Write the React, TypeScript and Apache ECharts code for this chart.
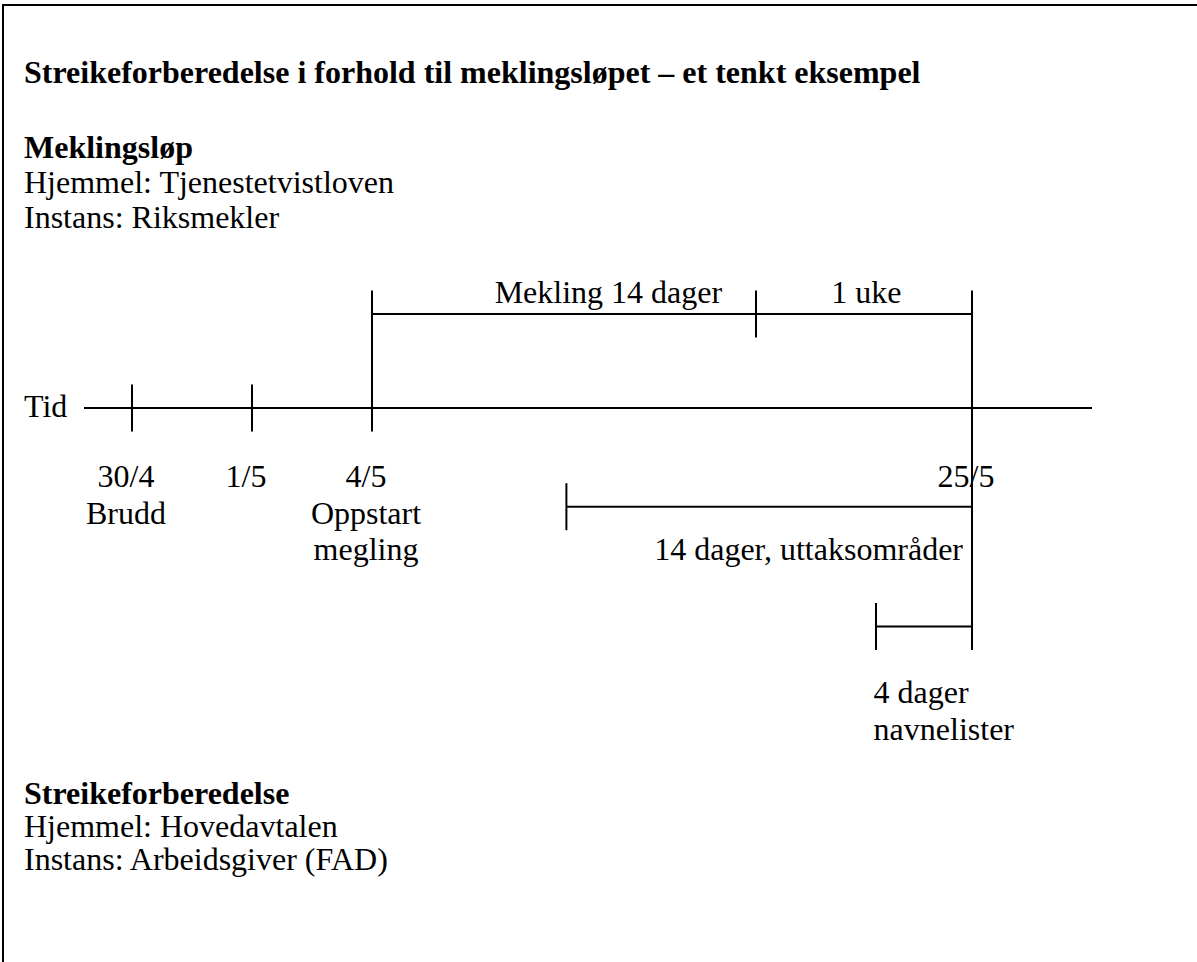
import React, { useEffect, useRef } from "react";
import * as echarts from "echarts";

const FONT = "Liberation Serif";

// Texts
const title = "Streikeforberedelse i forhold til meklingsløpet – et tenkt eksempel";
const topBlock = ["Meklingsløp", "Hjemmel: Tjenestetvistloven", "Instans: Riksmekler"];
const bottomBlock = ["Streikeforberedelse", "Hjemmel: Hovedavtalen", "Instans: Arbeidsgiver (FAD)"];
const axisName = "Tid";

// Schematic timeline (positions are not to scale, as in the original sketch)
const dateLabels = ["30/4", "1/5", "4/5", "25/5"];
const dateNotes = ["Brudd", "", "Oppstart\nmegling", ""];
const datePos = [1, 2, 3, 8];
const timelineRange = [0.6, 9];
const tickHalf = 1;
const dateRow = -3.36;

// Mekling (mediation) bracket above the time line
const meklingStart = 3;
const meklingSplit = 6.2;
const meklingEnd = 8;
const meklingLevel = 4;
const bracketTop = 5;
const splitBottom = 3;
const meklingLabels = ["Mekling 14 dager", "1 uke"];
const meklingLabelPos = [4.97, 7.12];
const meklingLabelRow = 4.47;

// Strike preparation brackets below the time line
const prepLabels = ["14 dager, uttaksområder", "4 dager\nnavnelister"];
const prepStart = [4.62, 7.2];
const prepEnd = [8, 8];
const prepLevel = [-4.2, -9.3];
const prepLabelX = [7.925, 7.18];
const prepLabelRow = [-6.47, -12.55];
const prepLabelAlign = ["right", "left"];

const BASE_TO_MID = 10.8; // alphabetic baseline -> central for 32px serif

export default function App() {
  const ref = useRef<HTMLDivElement>(null);
  useEffect(() => {
    if (!ref.current) return;
    const chart = echarts.init(ref.current, null, { renderer: "svg" });

    const segs: number[][] = [];
    segs.push([timelineRange[0], 0, timelineRange[1], 0]);
    datePos.forEach((p) => segs.push([p, tickHalf, p, -tickHalf]));
    segs.push([meklingStart, bracketTop, meklingStart, 0]);
    segs.push([meklingStart, meklingLevel, meklingEnd, meklingLevel]);
    segs.push([meklingSplit, bracketTop, meklingSplit, splitBottom]);
    segs.push([meklingEnd, bracketTop, meklingEnd, prepLevel[1] - tickHalf]);
    prepStart.forEach((s, i) => {
      segs.push([s, prepLevel[i], prepEnd[i], prepLevel[i]]);
      segs.push([s, prepLevel[i] + tickHalf, s, prepLevel[i] - tickHalf]);
    });

    type Lab = { x: number; y: number; text: string; align: string; dx: number };
    const labels: Lab[] = [];
    dateLabels.forEach((d, i) => {
      const note = dateNotes[i] ? "\n" + dateNotes[i] : "";
      labels.push({ x: datePos[i], y: dateRow, text: d + note, align: "center", dx: -6 });
    });
    meklingLabels.forEach((t, i) =>
      labels.push({ x: meklingLabelPos[i], y: meklingLabelRow, text: t, align: "center", dx: 0 })
    );
    prepLabels.forEach((t, i) =>
      labels.push({ x: prepLabelX[i], y: prepLabelRow[i], text: t, align: prepLabelAlign[i], dx: 0 })
    );

    const LH = 36.5;
    const textEl = (x: number, baseline: number, text: string, bold = false) => ({
      type: "text",
      x,
      y: baseline - BASE_TO_MID,
      style: {
        text,
        fontFamily: FONT,
        fontSize: 32,
        fontWeight: bold ? "bold" : "normal",
        fill: "#000",
        verticalAlign: "middle",
        align: "left",
      },
    });

    const option: any = {
      animation: false,
      backgroundColor: "#fff",
      textStyle: { fontFamily: FONT },
      grid: { left: 12, width: 1140, top: 8.5, height: 940 },
      xAxis: { type: "value", min: 0, max: 9.5, show: false },
      yAxis: { type: "value", min: -23, max: 17, show: false },
      graphic: [
        { type: "line", shape: { x1: 2, y1: 5, x2: 1197, y2: 5 }, style: { stroke: "#000", lineWidth: 2 } },
        { type: "line", shape: { x1: 3, y1: 4, x2: 3, y2: 962 }, style: { stroke: "#000", lineWidth: 2 } },
        textEl(24, 83, title, true),
        ...topBlock.map((t, i) => textEl(24, 158 + i * 35, t, i === 0)),
        ...bottomBlock.map((t, i) => textEl(24, 804 + i * 33, t, i === 0)),
        textEl(24, 417, axisName),
      ],
      series: [
        {
          type: "custom",
          coordinateSystem: "cartesian2d",
          silent: true,
          data: segs,
          encode: { x: [0, 2], y: [1, 3] },
          renderItem: (_p: any, api: any) => {
            const a = api.coord([api.value(0), api.value(1)]);
            const b = api.coord([api.value(2), api.value(3)]);
            return {
              type: "line",
              shape: { x1: a[0], y1: a[1], x2: b[0], y2: b[1] },
              style: { stroke: "#000", lineWidth: 2 },
            };
          },
        },
        {
          type: "custom",
          coordinateSystem: "cartesian2d",
          silent: true,
          data: labels.map((l, i) => [l.x, l.y, i]),
          renderItem: (_p: any, api: any) => {
            const l = labels[api.value(2)];
            const p = api.coord([api.value(0), api.value(1)]);
            return {
              type: "text",
              x: p[0] + l.dx,
              y: p[1] - BASE_TO_MID - LH / 2,
              style: {
                text: l.text,
                fontFamily: FONT,
                fontSize: 32,
                fill: "#000",
                align: l.align,
                verticalAlign: "top",
                lineHeight: LH,
              },
            };
          },
        },
      ],
    };
    chart.setOption(option);
    return () => chart.dispose();
  }, []);
  return (
    <div
      ref={ref}
      style={{ position: "fixed", left: 0, top: 0, width: 1197, height: 962, background: "#fff" }}
    />
  );
}
